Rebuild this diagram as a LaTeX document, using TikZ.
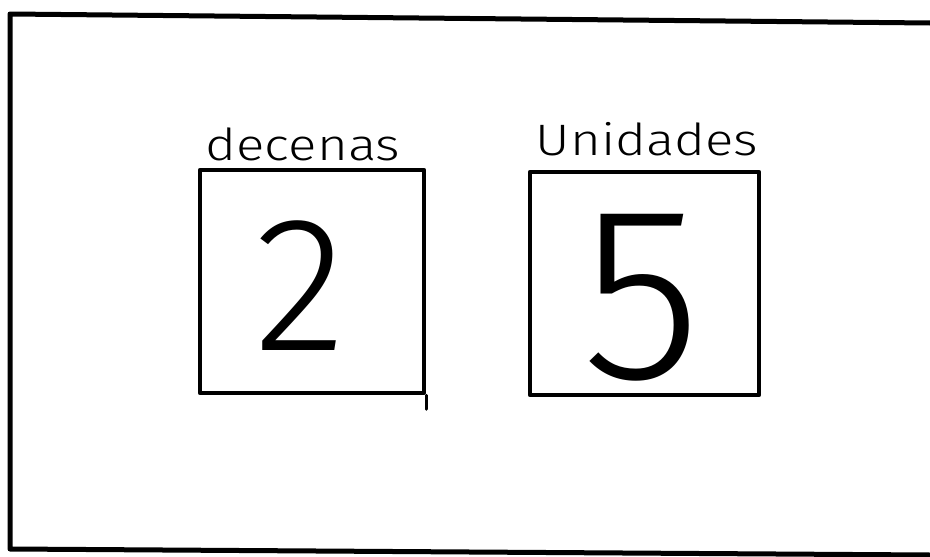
\documentclass[tikz,border=0pt]{standalone}
\usepackage{fontspec}
\setmainfont{Fira Sans}
\newfontfamily\lightf{Fira Sans Light}
\begin{document}
\begin{tikzpicture}[x=1pt,y=-1pt,line cap=round,line join=round,
  frameline/.style={line width=5pt},
  cell/.style={draw,line width=4.5pt,rectangle,inner sep=0pt,minimum height=223pt},
  lab/.style={anchor=base,inner sep=0pt,font=\lightf\fontsize{44}{44}\selectfont,xscale=1.2},
  digit/.style={inner sep=0pt,font=\lightf}]
\useasboundingbox (0,0) rectangle (930,557);
% outer frame
\coordinate (tr) at (930,23);
\coordinate (tl) at (10,14);
\coordinate (bl) at (10,549);
\coordinate (br) at (930,555);
\draw[frameline] (tr) -- (tl) -- (bl) -- (br);
% boxes
\node[cell,minimum width=224pt] (dec) at (312,281.5) {};
\node[cell,minimum width=229pt] (uni) at (644.5,283.5) {};
\coordinate (tick) at ([yshift=-14pt]dec.south east);
\draw[line width=3pt] (dec.south east) -- (tick);
% labels
\node[lab] (ldec) at (303,160) {decenas};
\node[lab] (luni) at (647,155) {Unidades};
% digits
\node[digit,font=\lightf\fontsize{192}{192}\selectfont] (two) at (300,286) {2};
\node[digit,font=\lightf\fontsize{247}{247}\selectfont] (five) at (642,298) {5};
\end{tikzpicture}
\end{document}
